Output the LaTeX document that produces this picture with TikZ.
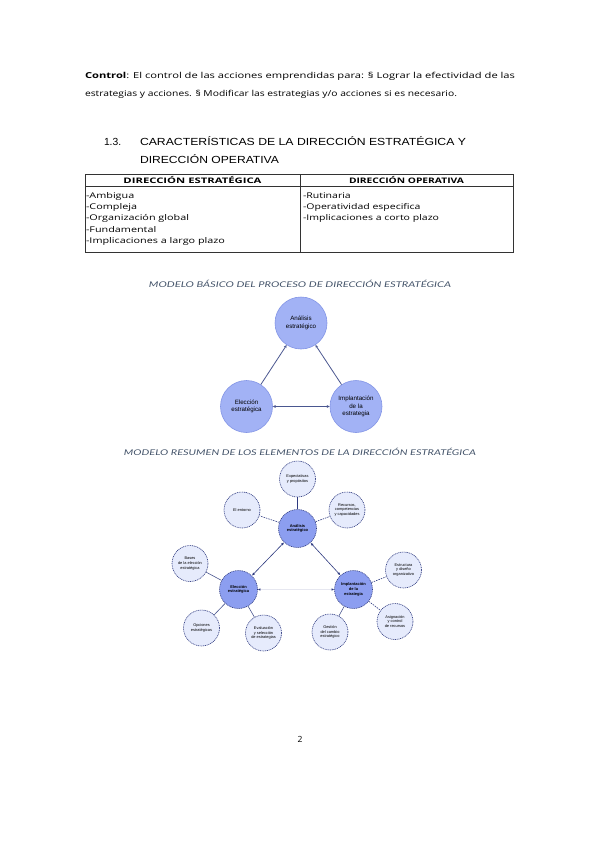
\documentclass[tikz,border=0pt]{standalone}
\usepackage{fontspec}
\setmainfont{Open Sans}
\newfontfamily\arialf{Liberation Sans}
\newfontfamily\latof{Lato}
\usetikzlibrary{arrows.meta}
\definecolor{titc}{HTML}{44546A}
\definecolor{bigfill}{HTML}{A2B2F5}
\definecolor{bigdraw}{HTML}{8395E6}
\definecolor{lnc}{HTML}{4A5790}
\definecolor{navy}{HTML}{2E3A80}
\definecolor{cenfill}{HTML}{8C9EF0}
\definecolor{smfill}{HTML}{E6EBFC}
\newcommand\fitw[2]{\resizebox{#1}{\height}{#2}}
\tikzset{
  txt/.style={inner sep=0pt, outer sep=0pt},
  cell/.style={inner sep=0pt, outer sep=0pt, anchor=base west, font=\fontsize{7.9}{11.3}\selectfont},
  bigc/.style={circle, fill=bigfill, draw=bigdraw, line width=0.6pt, minimum size=52pt, inner sep=0pt, align=center, font=\arialf\fontsize{6.2}{7.4}\selectfont, text=black},
  cenc/.style={circle, fill=cenfill, draw=navy, dash pattern=on 1pt off 0.8pt, line width=0.6pt, minimum size=38pt, inner sep=0pt, align=center, font=\arialf\bfseries\fontsize{4}{4.8}\selectfont, text=black},
  smc/.style={circle, fill=smfill, draw=navy, dash pattern=on 1pt off 0.8pt, line width=0.6pt, minimum size=36pt, inner sep=0pt, align=center, font=\arialf\fontsize{3.9}{4.7}\selectfont, text=black},
  link1/.style={draw=lnc, line width=0.8pt},
  link2/.style={draw=navy, line width=0.6pt},
  dlink/.style={draw=navy, line width=0.6pt, dash pattern=on 1.5pt off 1pt},
  ttip/.style={{Latex[length=3pt,width=2.6pt]}-{Latex[length=3pt,width=2.6pt]}},
  tbl/.style={draw=black!80, line width=0.6pt},
}
\begin{document}
\begin{tikzpicture}[x=1pt,y=-1pt]
\useasboundingbox[fill=white] (0,0) rectangle (599,848);
% paragraph
\node[txt, anchor=base west] (p1) at (85,79) {\fontsize{8.2}{10}\selectfont\fitw{430pt}{\textbf{Control}: El control de las acciones emprendidas para: § Lograr la efectividad de las}};
\node[txt, anchor=base west] (p2) at (85,97) {\fontsize{8.2}{10}\selectfont\fitw{372pt}{estrategias y acciones. § Modificar las estrategias y/o acciones si es necesario.}};
% heading
\node[txt, anchor=base west] (h0) at (104,146) {\arialf\fontsize{10.3}{12}\selectfont 1.3.};
\node[txt, anchor=base west] (h1) at (140,146) {\arialf\fontsize{10.3}{12}\selectfont\fitw{326pt}{CARACTERÍSTICAS DE LA DIRECCIÓN ESTRATÉGICA Y}};
\node[txt, anchor=base west] (h2) at (140,163) {\arialf\fontsize{10.3}{12}\selectfont\fitw{139pt}{DIRECCIÓN OPERATIVA}};
% table
\draw[tbl] (85,174) rectangle (513,252);
\draw[tbl] (85,186.5) -- (513,186.5);
\draw[tbl] (300,174) -- (300,252);
\node[txt, anchor=base] (th1) at (192.5,183.4) {\fontsize{7.6}{9}\selectfont\bfseries\fitw{138pt}{DIRECCIÓN ESTRATÉGICA}};
\node[txt, anchor=base] (th2) at (406.5,183.4) {\fontsize{7.6}{9}\selectfont\bfseries\fitw{115pt}{DIRECCIÓN OPERATIVA}};
\node[cell] (lc) at (86,198.1) {\fitw{139pt}{\begin{tabular}[t]{@{}l@{}}-Ambigua\\-Compleja\\-Organización global\\-Fundamental\\-Implicaciones a largo plazo\end{tabular}}};
\node[cell] (rc) at (303,198.1) {\fitw{136pt}{\begin{tabular}[t]{@{}l@{}}-Rutinaria\\-Operatividad especifica\\-Implicaciones a corto plazo\end{tabular}}};
% diagram 1
\node[txt, anchor=base, text=titc] (d1t) at (300,287.5) {\latof\fontsize{7.9}{9}\selectfont\itshape\fitw{302pt}{MODELO BÁSICO DEL PROCESO DE DIRECCIÓN ESTRATÉGICA}};
\node[bigc] (A) at (301,323) {Análisis\\estratégico};
\node[bigc] (E) at (246.5,406.5) {Elección\\estratégica};
\node[bigc] (I) at (356,406.5) {Implantación\\de la\\estrategia};
\draw[link1, -{Stealth[length=3pt,width=2.8pt]}] (E) -- (A);
\draw[link1, -{Stealth[length=3pt,width=2.8pt]}] (I) -- (A);
\draw[link1, {Stealth[length=3pt,width=2.8pt]}-{Stealth[length=3pt,width=2.8pt]}] (E) -- (I);
% diagram 2
\node[txt, anchor=base, text=titc] (d2t) at (300,455.5) {\latof\fontsize{7.9}{9}\selectfont\itshape\fitw{352pt}{MODELO RESUMEN DE LOS ELEMENTOS DE LA DIRECCIÓN ESTRATÉGICA}};
\node[cenc] (C) at (297.5,528.5) {Análisis\\estratégico};
\node[smc] (Cp) at (297.5,479) {Expectativas\\y propósitos};
\node[smc] (Ce) at (242,510) {El entorno};
\node[smc] (Cr) at (347,510) {Recursos,\\competencias\\y capacidades};
\node[cenc] (L) at (238.5,589.5) {Elección\\estratégica};
\node[smc] (Lb) at (190,563.5) {Bases\\de la elección\\estratégica};
\node[smc] (Lo) at (201.5,628) {Opciones\\estratégicas};
\node[smc] (Lv) at (263.5,633) {Evaluación\\y selección\\de estrategias};
\node[cenc] (M) at (353.5,589.5) {Implantación\\de la\\estrategia};
\node[smc] (Ms) at (403.5,570) {Estructura\\y diseño\\organizativo};
\node[smc] (Ma) at (395,621.5) {Asignación\\y control\\de recursos};
\node[smc] (Mg) at (330,632) {Gestión\\del cambio\\estratégico};
\draw[link2] (C) -- (Cp);
\draw[dlink] (C) -- (Ce);
\draw[dlink] (C) -- (Cr);
\draw[link2, ttip] (L) -- (C);
\draw[link2, ttip] (M) -- (C);
\draw[draw=navy!12, line width=0.6pt, {Latex[length=2.6pt,width=2.4pt,color=navy]}-{Latex[length=2.6pt,width=2.4pt,color=navy]}] (L) -- (M);
\draw[link2, draw=lnc] (L) -- (Lb);
\draw[link2, draw=lnc] (L) -- (Lo);
\draw[link2, draw=lnc] (L) -- (Lv);
\draw[dlink] (M) -- (Ms);
\draw[dlink] (M) -- (Ma);
\draw[link2, draw=lnc] (M) -- (Mg);
% page number
\node[txt, anchor=base] (pg) at (300,742) {\fontsize{8.5}{10}\selectfont 2};
\end{tikzpicture}
\end{document}
